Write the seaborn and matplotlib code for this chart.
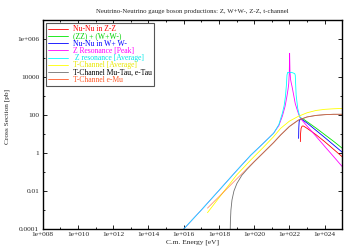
import numpy as np
import seaborn as sns
import matplotlib.pyplot as plt
import matplotlib.ticker as mticker

# values (log10 of energy in eV, log10 of cross section in pb)
zz_logE = [22.62, 22.63, 22.66, 22.72, 22.8, 23.0, 23.5, 24.0, 24.5, 25.0]
zz_logxs = [0.6, 1.0, 1.3, 1.42, 1.42, 1.3, 0.97, 0.6, 0.2, -0.2]

sum_logE = [22.62, 22.8, 23.0, 23.5, 24.0, 24.5, 25.0]
sum_logxs = [1.86, 1.78, 1.65, 1.32, 0.97, 0.62, 0.25]

ww_logE = [22.52, 22.53, 22.55, 22.6, 22.7, 23.0, 23.5, 24.0, 24.5, 25.0]
ww_logxs = [0.77, 1.3, 1.65, 1.76, 1.77, 1.58, 1.2, 0.82, 0.43, 0.04]

zpeak_logE = [16.0, 17.0, 18.0, 19.0, 19.8, 20.5, 21.1, 21.4, 21.6, 21.75, 21.85, 21.92, 21.96,
              21.99, 22.01, 22.03, 22.06, 22.1, 22.15, 22.24, 22.33, 22.43, 22.52, 22.62,
              23.0, 23.5, 24.0, 24.5, 25.0]
zpeak_logxs = [-4.0, -3.0, -1.97, -0.93, -0.12, 0.5, 1.04, 1.45, 1.95, 2.45, 2.95, 3.35, 3.65,
               4.2, 5.25, 4.3, 3.9, 3.7, 3.49, 3.05, 2.6, 2.3, 2.05, 1.83,
               1.42, 0.89, 0.35, -0.18, -0.72]

zavg_logE = [16.0, 17.0, 18.0, 19.0, 19.8, 20.5, 21.1, 21.4, 21.6, 21.7, 21.77, 21.83, 21.86,
             21.9, 22.0, 22.1, 22.2, 22.3, 22.33, 22.38, 22.47, 22.56, 22.62]
zavg_logxs = [-4.0, -3.0, -1.97, -0.93, -0.12, 0.5, 1.04, 1.5, 2.1, 2.5, 2.96, 3.6, 4.1,
              4.25, 4.22, 4.25, 4.22, 4.18, 4.1, 3.05, 2.35, 2.0, 1.83]

tavg_logE = [17.35, 18.0, 19.0, 19.8, 20.5, 21.1, 21.5, 22.0, 22.5, 23.0, 23.5, 24.0, 24.5, 25.0]
tavg_logxs = [-3.14, -2.36, -1.16, -0.37, 0.28, 0.86, 1.3, 1.68, 1.93, 2.12, 2.24, 2.3, 2.33, 2.35]

mutau_logE = [18.63, 18.65, 18.68, 18.74, 18.85, 19.02, 19.3, 19.6, 20.0, 20.5, 21.1, 21.5,
              22.0, 22.5, 23.0, 23.5, 24.0, 24.5, 25.0]
mutau_logxs = [-4.6, -3.6, -3.0, -2.47, -2.0, -1.6, -1.17, -0.85, -0.46, 0.0, 0.55, 0.95,
               1.4, 1.73, 1.9, 1.98, 2.02, 2.04, 2.04]

emu_logE = [17.35, 18.0, 19.0, 19.8, 20.5, 21.1, 21.5, 22.0, 22.5, 23.0, 23.5, 24.0, 24.5, 25.0]
emu_logxs = [-2.9, -2.3, -1.37, -0.63, 0.0, 0.55, 0.95, 1.4, 1.73, 1.9, 1.98, 2.02, 2.04, 2.04]

series = [
    ("Nu-Nu in Z-Z", zz_logE, zz_logxs, "#ff0000", "#ff0000", 1.0),
    ("(ZZ) + (W+W-)", sum_logE, sum_logxs, "#00e600", "#00d000", 1.0),
    ("Nu-Nu in W+ W-", ww_logE, ww_logxs, "#0000ff", "#0000ff", 1.0),
    ("Z Resonance [Peak]", zpeak_logE, zpeak_logxs, "#ff00ff", "#ff00ff", 1.0),
    (" Z resonance [Average]", zavg_logE, zavg_logxs, "#00ffff", "#00e8e8", 1.0),
    ("T-Channel [Average]", tavg_logE, tavg_logxs, "#ffff00", "#e8e800", 1.0),
    ("T-Channel Mu-Tau, e-Tau", mutau_logE, mutau_logxs, "#707070", "#000000", 1.0),
    ("T-Channel e-Mu", emu_logE, emu_logxs, "#ff5a28", "#ff5a28", 0.65),
]

x_ticks = [1e8, 1e10, 1e12, 1e14, 1e16, 1e18, 1e20, 1e22, 1e24]
x_labels = ["1e+008", "1e+010", "1e+012", "1e+014", "1e+016", "1e+018", "1e+020", "1e+022", "1e+024"]
y_ticks = [1e-4, 1e-2, 1, 1e2, 1e4, 1e6]
y_labels = ["0.0001", "0.01", "1", "100", "10000", "1e+006"]

sns.set_style("ticks")
plt.rcParams["font.family"] = ["Liberation Serif", "DejaVu Serif"]
fs = 5.3

fig, ax = plt.subplots(figsize=(3.54, 2.48), dpi=100)
fig.subplots_adjust(left=0.1206, right=0.967, bottom=0.0766, top=0.919)

for name, le, lx, col, tcol, a in series:
    sns.lineplot(x=10 ** np.array(le), y=10 ** np.array(lx), ax=ax, color=col,
                 lw=0.6, alpha=a, label=name, sort=False, estimator=None)

ax.set_xscale("log")
ax.set_yscale("log")
ax.set_xlim(1e8, 1e25)
ax.set_ylim(1e-4, 1e7)

ax.set_xticks(x_ticks)
ax.set_xticklabels(x_labels)
ax.set_yticks(y_ticks)
ax.set_yticklabels(y_labels)
ax.xaxis.set_minor_locator(mticker.FixedLocator([10.0 ** k for k in range(9, 26, 2)]))
ax.yaxis.set_minor_locator(mticker.FixedLocator([10.0 ** k for k in range(-3, 8, 2)]))
ax.xaxis.set_minor_formatter(mticker.NullFormatter())
ax.yaxis.set_minor_formatter(mticker.NullFormatter())
ax.tick_params(which="both", direction="in", top=True, right=True, labelsize=fs,
               width=0.6, color="black", pad=2.5)
ax.tick_params(which="major", length=3)
ax.tick_params(which="minor", length=1.5)
for s in ax.spines.values():
    s.set_linewidth(1.0)
    s.set_color("black")

ax.set_title("Neutrino-Neutrino gauge boson productions: Z, W+W-, Z-Z, t-channel",
             fontsize=4.9, pad=5)
ax.set_xlabel("C.m. Energy [eV]", fontsize=fs, labelpad=1.5)
ax.set_ylabel("Cross Section [pb]", fontsize=fs)
ax.yaxis.set_label_coords(-0.108, 0.54)

leg = ax.legend(loc="upper left", bbox_to_anchor=(0.011, 0.986), borderaxespad=0,
                fontsize=5.5, frameon=True, fancybox=False, framealpha=1,
                edgecolor="#555555", handlelength=2.6, handletextpad=0.6,
                labelspacing=-0.1, borderpad=0.3)
leg.get_frame().set_linewidth(0.8)
for txt, line, s in zip(leg.get_texts(), leg.get_lines(), series):
    txt.set_color(s[4])
    line.set_alpha(1)
    line.set_linewidth(0.6)

plt.savefig("out.png", dpi=100)
